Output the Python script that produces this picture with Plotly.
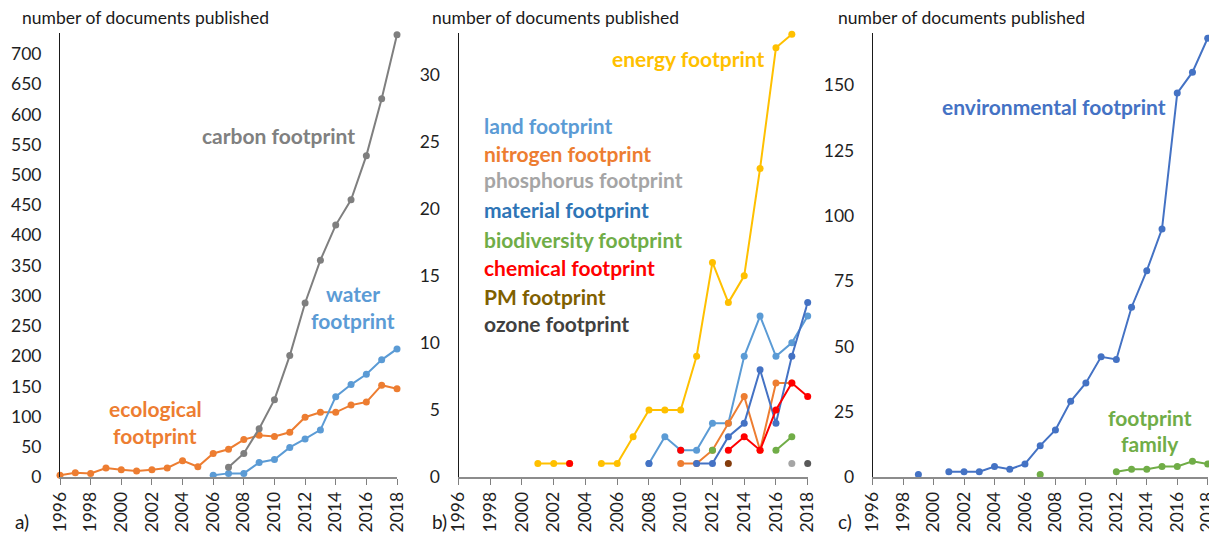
import plotly.graph_objects as go

N = None
years = list(range(1996, 2019))

# Panel a
carbon     = [N, N, N, N, N, N, N, N, N, N, N, 16, 39, 80, 128, 201, 288, 359, 417, 459, 532, 626, 732]
water      = [N, N, N, N, N, N, N, N, N, N, 3, 6, 6, 24, 29, 49, 63, 78, 133, 153, 170, 194, 212]
ecological = [3, 7, 6, 15, 12, 10, 12, 15, 27, 17, 39, 46, 62, 69, 67, 74, 99, 107, 107, 119, 124, 152, 146]

# Panel b
energy       = [N, N, N, N, N, 1, 1, 1, N, 1, 1, 3, 5, 5, 5, 9, 16, 13, 15, 23, 32, 33, N]
land         = [N, N, N, N, N, N, N, N, N, N, N, N, 1, 3, 2, 2, 4, 4, 9, 12, 9, 10, 12]
nitrogen     = [N, N, N, N, N, N, N, N, N, N, N, N, N, N, 1, 1, 2, 4, 6, 2, 7, 7, N]
phosphorus   = [N, N, N, N, N, N, N, N, N, N, N, N, N, N, N, N, N, N, N, N, N, 1, N]
material     = [N, N, N, N, N, N, N, N, N, N, N, N, 1, N, N, 1, 1, 3, 4, 8, 4, 9, 13]
biodiversity = [N, N, N, N, N, N, N, N, N, N, N, N, N, N, N, N, 2, N, N, N, 2, 3, N]
chemical     = [N, N, N, N, N, N, N, 1, N, N, N, N, N, N, 2, N, N, 2, 3, 2, 5, 7, 6]
pm           = [N, N, N, N, N, N, N, N, N, N, N, N, N, N, N, N, N, 1, N, N, N, N, N]
ozone        = [N, N, N, N, N, N, N, N, N, N, N, N, N, N, N, N, N, N, N, N, N, N, 1]

# Panel c
environmental = [N, N, N, 1, N, 2, 2, 2, 4, 3, 5, 12, 18, 29, 36, 46, 45, 65, 79, 95, 147, 155, 168]
family        = [N, N, N, N, N, N, N, N, N, N, N, 1, N, N, N, N, 2, 3, 3, 4, 4, 6, 5]

# page body has an 8px margin; figure is sized so it fits the window
OFF = 8
W, H = 1217 - OFF, 538 - OFF
FONT = "Lato"
TICKC = "#1f1f1f"

def px(x):
    return (x - OFF) / W

def py(y):
    return 1 - (y - OFF) / H

fig = go.Figure()

def add(y, color, axis, mcolor=None):
    fig.add_trace(go.Scatter(
        x=years, y=y, mode="lines+markers", xaxis="x" + axis, yaxis="y" + axis,
        line=dict(color=color, width=2),
        marker=dict(color=mcolor or color, size=7),
        cliponaxis=False, showlegend=False, connectgaps=False, hoverinfo="x+y"))

add(ecological, "#ED7D31", "")
add(water, "#5B9BD5", "")
add(carbon, "#7F7F7F", "")

add(energy, "#FFC000", "2")
add(land, "#5B9BD5", "2")
add(nitrogen, "#ED7D31", "2")
add(phosphorus, "#A5A5A5", "2")
add(material, "#4472C4", "2")
add(biodiversity, "#70AD47", "2")
add(chemical, "#FF0000", "2")
add(pm, "#843C0C", "2")
add(ozone, "#595959", "2")

add(family, "#70AD47", "3")
add(environmental, "#4472C4", "3")

ydom = [py(477), py(33)]
xdoms = [[px(60), px(397)], [px(458.5), px(807.7)], [px(872.7), px(1207.7)]]
yranges = [[0, 735], [0, 33.1], [0, 170]]
ydticks = [50, 5, 25]

layout = dict(
    width=W, height=H, margin=dict(l=0, r=0, t=0, b=0),
    paper_bgcolor="white", plot_bgcolor="white",
    font=dict(family=FONT, size=17, color=TICKC),
)
for i in range(3):
    sx = "xaxis" if i == 0 else f"xaxis{i+1}"
    sy = "yaxis" if i == 0 else f"yaxis{i+1}"
    anchor_y = "y" if i == 0 else f"y{i+1}"
    anchor_x = "x" if i == 0 else f"x{i+1}"
    layout[sx] = dict(
        domain=xdoms[i], anchor=anchor_y, range=[1996, 2018],
        tickvals=list(range(1996, 2019, 2)), tickangle=-90,
        ticks="outside", ticklen=6, tickcolor="#808080", tickwidth=1.3,
        showline=True, linecolor="#8c8c8c", linewidth=1.8,
        showgrid=False, zeroline=False, automargin=False,
        ticklabeloverflow="allow",
        tickfont=dict(family=FONT, size=17.5, color=TICKC),
    )
    layout[sy] = dict(
        domain=ydom, anchor=anchor_x, range=yranges[i], dtick=ydticks[i], tick0=0,
        showline=True, linecolor="#1a1a1a", linewidth=1,
        ticks="", showgrid=False, zeroline=False, automargin=False,
        ticklabelstandoff=14, ticklabeloverflow="allow",
        tickfont=dict(family=FONT, size=17.5, color=TICKC),
    )
fig.update_layout(**layout)

anns = []
def txt(x, y, s, color, size=21, xanchor="center", bold=True):
    anns.append(dict(x=px(x), y=py(y), xref="paper", yref="paper", text=s,
                     showarrow=False, xanchor=xanchor, yanchor="middle",
                     font=dict(family=FONT, size=size, color=color,
                               weight="bold" if bold else "normal")))

for x0 in (20, 430, 836):
    txt(x0, 18, "number of documents published", "#1a1a1a", size=17.5, xanchor="left", bold=False)
txt(13, 521, "a)", "#1a1a1a", size=19, xanchor="left", bold=False)
txt(430, 521, "b)", "#1a1a1a", size=19, xanchor="left", bold=False)
txt(836, 521, "c)", "#1a1a1a", size=19, xanchor="left", bold=False)

txt(278, 135, "carbon footprint", "#808080")
txt(353, 293, "water", "#5B9BD5")
txt(353, 320, "footprint", "#5B9BD5")
txt(155, 408, "ecological", "#ED7D31")
txt(155, 435, "footprint", "#ED7D31")

txt(688, 59, "energy footprint", "#FFC000")
bl = [("land footprint", "#5B9BD5", 126), ("nitrogen footprint", "#ED7D31", 153),
      ("phosphorus footprint", "#A5A5A5", 180), ("material footprint", "#2E75B6", 209),
      ("biodiversity footprint", "#70AD47", 239), ("chemical footprint", "#FF0000", 267),
      ("PM footprint", "#7F6000", 296), ("ozone footprint", "#404040", 323)]
for s, c, y in bl:
    txt(482, y, s, c, xanchor="left")

txt(1054, 107, "environmental footprint", "#4472C4")
txt(1150, 417, "footprint", "#70AD47")
txt(1150, 443, "family", "#70AD47")

fig.update_layout(annotations=anns)
fig.write_html("out.html")
